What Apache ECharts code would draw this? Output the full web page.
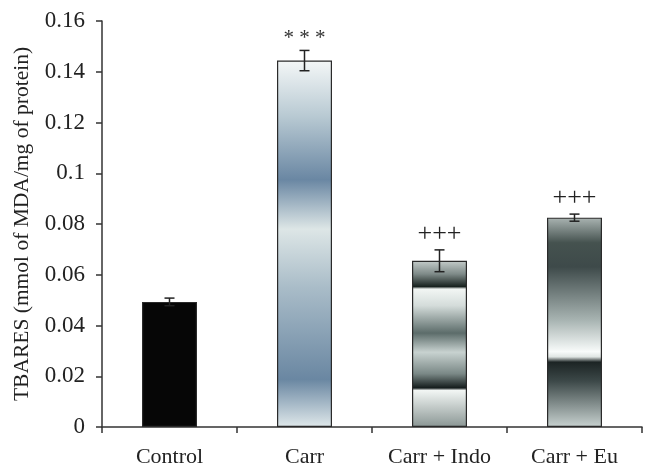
<!DOCTYPE html>
<html>
<head>
<meta charset="utf-8">
<script src="https://cdn.jsdelivr.net/npm/echarts@6/dist/echarts.min.js"></script>
<style>html,body{margin:0;padding:0;background:#fff}#c{width:657px;height:475px}</style>
</head>
<body>
<div id="c"></div>
<script>
const categories = ['Control', 'Carr', 'Carr + Indo', 'Carr + Eu'];
const means = [0.0493, 0.1444, 0.0655, 0.0825];
const errors = [0.0015, 0.0040, 0.0043, 0.0014];
const marks = ['', '* * *', '+++', '+++'];
const yTicks = [0, 0.02, 0.04, 0.06, 0.08, 0.1, 0.12, 0.14, 0.16];

function grad(stops) {
  return new echarts.graphic.LinearGradient(0, 0, 0, 1,
    stops.map(s => ({offset: s[0], color: s[1]})));
}
const fills = [
  '#060606',
  grad([[0, '#f4f7f7'], [0.15, '#b9cad3'], [0.325, '#6a87a3'], [0.46, '#dde6e6'], [0.62, '#a9bcc8'], [0.87, '#6a87a2'], [1, '#dfe8ea']]),
  grad([[0, '#c4ccca'], [0.08, '#7e8a88'], [0.155, '#18221f'], [0.17, '#f2f6f4'], [0.27, '#d4dcda'], [0.435, '#5c6c6a'], [0.55, '#c8d2d0'], [0.68, '#7a8886'], [0.765, '#141c1c'], [0.78, '#f2f6f4'], [1, '#8a9694']]),
  grad([[0, '#aab4b2'], [0.12, '#45524f'], [0.235, '#3e4a4a'], [0.49, '#a8b4b2'], [0.64, '#f8fbfa'], [0.665, '#dfe5e3'], [0.69, '#1c2424'], [0.78, '#3c4848'], [1, '#c8d2d0']])
];

const chart = echarts.init(document.getElementById('c'), null, {renderer: 'canvas'});
const serif = '"Liberation Serif", "DejaVu Serif", serif';
chart.setOption({
  animation: false,
  backgroundColor: '#ffffff',
  grid: {left: 102, right: 15, top: 21, bottom: 48, containLabel: false, outerBoundsMode: 'none'},
  xAxis: {
    type: 'category',
    data: categories,
    axisLine: {lineStyle: {color: '#333', width: 1.5}},
    axisTick: {show: true, interval: 0, length: 6, lineStyle: {color: '#333', width: 1.5}},
    axisLabel: {color: '#222', fontFamily: serif, fontSize: 22, margin: 19, interval: 0, hideOverlap: false}
  },
  yAxis: {
    type: 'value',
    min: yTicks[0],
    max: yTicks[yTicks.length - 1],
    interval: 0.02,
    name: 'TBARES (mmol of MDA/mg of protein)',
    nameLocation: 'middle',
    nameGap: 69,
    nameTextStyle: {color: '#222', fontFamily: serif, fontSize: 21.5},
    axisLine: {show: true, lineStyle: {color: '#333', width: 1.5}},
    axisTick: {show: true, length: 6, lineStyle: {color: '#333', width: 1.5}},
    splitLine: {show: false},
    axisLabel: {color: '#222', fontFamily: serif, fontSize: 23, margin: 17,
      formatter: v => String(+v.toFixed(2))}
  },
  series: [
    {
      type: 'bar',
      barWidth: 55,
      data: means.map((v, i) => ({value: v, itemStyle: {color: fills[i], borderColor: '#2a2a2a', borderWidth: 1.2}}))
    },
    {
      type: 'custom',
      data: means.map((v, i) => [i, v, errors[i]]),
      z: 10,
      renderItem: function (params, api) {
        const i = api.value(0), m = api.value(1), e = api.value(2);
        const top = api.coord([i, m + e]);
        const bot = api.coord([i, m - e]);
        const x = top[0];
        const hw = 5;
        const st = {stroke: '#222', lineWidth: 1.5};
        const children = [
          {type: 'line', shape: {x1: x, y1: top[1], x2: x, y2: bot[1]}, style: st},
          {type: 'line', shape: {x1: x - hw, y1: top[1], x2: x + hw, y2: top[1]}, style: st},
          {type: 'line', shape: {x1: x - hw, y1: bot[1], x2: x + hw, y2: bot[1]}, style: st}
        ];
        const t = marks[params.dataIndex];
        if (t) {
          const star = t.indexOf('*') >= 0;
          children.push({
            type: 'text',
            style: {
              text: t, x: x, y: top[1] - (star ? 12 : 16),
              align: 'center', verticalAlign: 'middle',
              fill: star ? '#333' : '#222', fontFamily: serif, fontSize: star ? 21 : 26
            }
          });
        }
        return {type: 'group', children: children};
      }
    }
  ]
});
</script>
</body>
</html>
